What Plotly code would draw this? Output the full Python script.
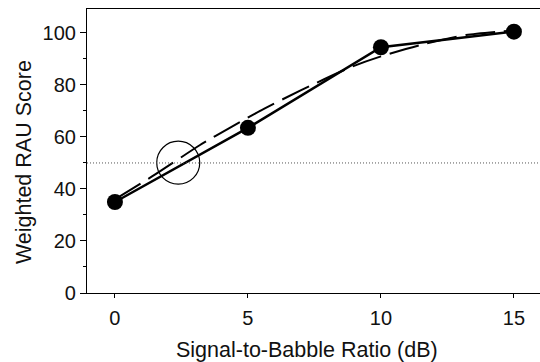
import plotly.graph_objects as go

# Data
snr = [0, 5, 10, 15]
rau = [35, 63.5, 94.5, 100.5]

fit_x = [0, 1.5, 3.2, 4.4, 5.6, 7.0, 8.9, 10.0, 11.5, 13.2, 15]
fit_y = [36, 45.5, 56.9, 64, 70.8, 78, 87, 91, 95.4, 99.2, 101]

threshold = 50
circle_x = [2.38]
circle_y = [50.1]

x_ticks = [0, 5, 10, 15]
y_ticks = [0, 20, 40, 60, 80, 100]

x_title = "Signal-to-Babble Ratio (dB)"
y_title = "Weighted RAU Score"

FONT = "Liberation Sans, Arial, sans-serif"

fig = go.Figure()

# dotted reference line
fig.add_shape(type="line", xref="paper", x0=0, x1=1, yref="y", y0=threshold, y1=threshold,
              line=dict(color="#555555", width=1, dash="1px,2px"))

# fitted dashed curve
fig.add_trace(go.Scatter(x=fit_x, y=fit_y, mode="lines",
                         line=dict(color="black", width=2, dash="30px,9px", shape="spline", smoothing=0.6),
                         hoverinfo="skip", showlegend=False))

# data
fig.add_trace(go.Scatter(x=snr, y=rau, mode="lines+markers",
                         line=dict(color="black", width=2.5),
                         marker=dict(color="black", size=16),
                         showlegend=False, cliponaxis=False))

# open circle
fig.add_trace(go.Scatter(x=circle_x, y=circle_y, mode="markers",
                         marker=dict(symbol="circle-open", size=43, color="black",
                                     line=dict(width=1.2, color="black")),
                         showlegend=False, hoverinfo="skip"))

fig.update_layout(
    width=540, height=362,
    margin=dict(l=87, r=0, t=9, b=69),
    paper_bgcolor="white", plot_bgcolor="white",
    font=dict(family=FONT, size=20, color="#111111"),
    showlegend=False,
    annotations=[
        dict(text=x_title, xref="paper", yref="paper", x=0.486, y=-0.2007,
             xanchor="center", yanchor="middle", showarrow=False, font=dict(size=21.5)),
        dict(text=y_title, xref="paper", yref="paper", x=-0.139, y=0.461,
             xanchor="center", yanchor="middle", showarrow=False, textangle=-90,
             font=dict(size=21.5)),
    ],
)

fig.update_xaxes(
    range=[-1.05, 15.98], tickvals=x_ticks, ticktext=[str(v) for v in x_ticks],
    showgrid=False, zeroline=False, showline=True, linecolor="black", linewidth=1.2,
    mirror=True, ticks="outside", ticklen=4, tickwidth=1, tickcolor="black",
    tickfont=dict(size=20), ticklabelstandoff=3,
)
fig.update_yaxes(
    range=[0, 109.2], tickvals=y_ticks, ticktext=[str(v) for v in y_ticks],
    showgrid=False, zeroline=False, showline=True, linecolor="black", linewidth=1.2,
    ticks="outside", ticklen=6, tickwidth=1, tickcolor="black",
    minor=dict(tickvals=[10, 30, 50, 70, 90], ticks="outside", ticklen=3, tickcolor="black"),
    tickfont=dict(size=20),
)

fig.write_html("out.html")
